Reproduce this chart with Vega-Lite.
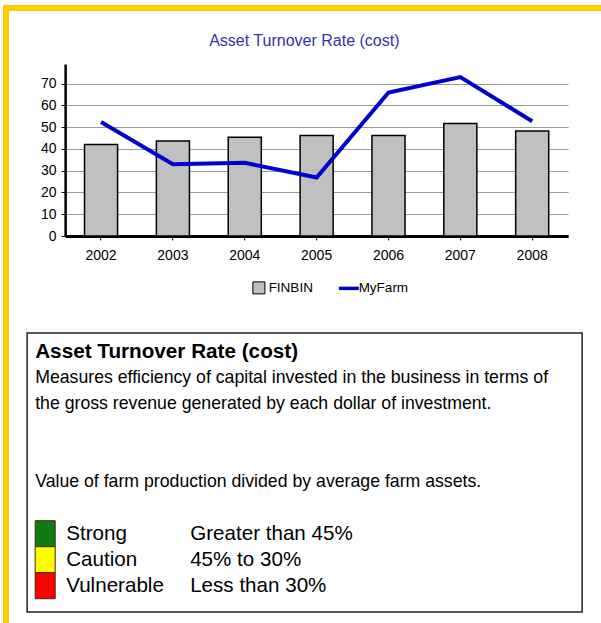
{
  "$schema": "https://vega.github.io/schema/vega-lite/v6.json",
  "padding": {"left": 3, "top": 5, "right": 0, "bottom": 0},
  "background": "white",
  "config": {"view": {"stroke": null}, "font": "Liberation Sans"},
  "datasets": {
    "chart": [
      {"year": "2002", "series": "FINBIN", "value": 42.0},
      {"year": "2003", "series": "FINBIN", "value": 43.6},
      {"year": "2004", "series": "FINBIN", "value": 45.4},
      {"year": "2005", "series": "FINBIN", "value": 46.2},
      {"year": "2006", "series": "FINBIN", "value": 46.2},
      {"year": "2007", "series": "FINBIN", "value": 51.7},
      {"year": "2008", "series": "FINBIN", "value": 48.2},
      {"year": "2002", "series": "MyFarm", "value": 52.4},
      {"year": "2003", "series": "MyFarm", "value": 33.0},
      {"year": "2004", "series": "MyFarm", "value": 33.6},
      {"year": "2005", "series": "MyFarm", "value": 26.9},
      {"year": "2006", "series": "MyFarm", "value": 65.9},
      {"year": "2007", "series": "MyFarm", "value": 73.0},
      {"year": "2008", "series": "MyFarm", "value": 52.7}
    ],
    "boxText": [
      {"key": "heading", "kind": "heading", "text": "Asset Turnover Rate (cost)"},
      {"key": "desc1", "kind": "body", "text": "Measures efficiency of capital invested in the business in terms of"},
      {"key": "desc2", "kind": "body", "text": "the gross revenue generated by each dollar of investment."},
      {"key": "definition", "kind": "body", "text": "Value of farm production divided by average farm assets."}
    ],
    "ratings": [
      {"status": "Strong", "range": "Greater than 45%"},
      {"status": "Caution", "range": "45% to 30%"},
      {"status": "Vulnerable", "range": "Less than 30%"}
    ],
    "blank": [{}]
  },
  "spacing": 0,
  "resolve": {"scale": {"color": "independent", "fill": "independent"}, "legend": {"color": "independent", "fill": "independent"}},
  "hconcat": [
    {
      "width": 6, "height": 618,
      "view": {"fill": "#FFCC00", "stroke": null},
      "data": {"name": "blank"},
      "mark": {"type": "point", "opacity": 0},
      "encoding": {}
    },
    {
      "spacing": 22,
      "center": true,
      "resolve": {"scale": {"color": "independent", "fill": "independent"}, "legend": {"color": "independent", "fill": "independent"}},
      "vconcat": [
        {
          "width": 592, "height": 6,
          "view": {"fill": "#FFCC00", "stroke": null},
          "data": {"name": "blank"},
          "mark": {"type": "point", "opacity": 0},
          "encoding": {}
        },
        {
          "spacing": 36,
          "resolve": {"scale": {"color": "independent", "fill": "independent"}, "legend": {"color": "independent", "fill": "independent"}},
          "vconcat": [
            {
              "spacing": 9,
              "resolve": {"scale": {"color": "independent"}, "legend": {"color": "independent"}},
              "hconcat": [
                {
                  "width": 1, "height": 1,
                  "data": {"name": "blank"},
                  "mark": {"type": "point", "opacity": 0},
                  "encoding": {}
                },
                {
                  "width": 503, "height": 172,
                  "title": {"text": "Asset Turnover Rate (cost)", "color": "#3333aa", "fontSize": 16, "fontWeight": "normal", "font": "Liberation Sans", "anchor": "middle", "frame": "bounds", "offset": 15},
                  "data": {"name": "chart"},
                  "encoding": {
                    "x": {"field": "year", "type": "nominal", "scale": {"paddingInner": 0.54, "paddingOuter": 0.27},
                      "axis": {"title": null, "labelAngle": 0, "domainColor": "#000", "domainWidth": 3, "tickColor": "#000", "tickSize": 4, "labelFontSize": 14, "labelColor": "#000", "labelPadding": 8, "grid": false}},
                    "y": {"field": "value", "type": "quantitative", "scale": {"domain": [0, 79], "nice": false},
                      "axis": {"values": [0, 10, 20, 30, 40, 50, 60, 70], "title": null, "grid": true, "gridColor": "#999", "gridWidth": 1, "domainColor": "#000", "domainWidth": 2.5, "tickColor": "#000", "tickSize": 4, "labelFontSize": 14, "labelColor": "#000", "labelPadding": 5}}
                  },
                  "layer": [
                    {"transform": [{"filter": "datum.series === 'FINBIN'"}], "mark": {"type": "bar", "fill": "#c0c0c0", "stroke": "#000", "strokeWidth": 1.5}},
                    {
                      "transform": [{"filter": "datum.series === 'MyFarm'"}],
                      "mark": {"type": "line", "strokeWidth": 4},
                      "encoding": {
                        "color": {"field": "series", "type": "nominal", "scale": {"domain": ["FINBIN", "MyFarm"], "range": ["#000000", "#0000cc"]},
                          "legend": {"title": null, "orient": "none", "legendX": 187, "legendY": 217, "padding": 0, "direction": "horizontal", "labelFontSize": 13.5, "labelFont": "Liberation Sans", "labelColor": "#000", "symbolSize": 144, "columnPadding": 18, "labelOffset": 3,
                            "encode": {"symbols": {"update": {
                              "shape": {"signal": "datum.value === 'MyFarm' ? 'stroke' : 'square'"},
                              "size": {"signal": "datum.value === 'MyFarm' ? 400 : 144"},
                              "fill": {"signal": "datum.value === 'MyFarm' ? 'transparent' : '#c0c0c0'"},
                              "strokeWidth": {"signal": "datum.value === 'MyFarm' ? 3.5 : 1"}}}}}}
                      }
                    }
                  ]
                }
              ]
            },
            {
              "width": 555, "height": 279,
              "view": {"stroke": "#222", "strokeWidth": 1.5, "fill": "white"},
              "layer": [
                {
                  "data": {"name": "boxText"},
                  "transform": [{"filter": "datum.kind === 'heading'"}],
                  "mark": {"type": "text", "align": "left", "baseline": "middle", "fontSize": 20.7, "fontWeight": "bold", "font": "Liberation Sans", "color": "#000"},
                  "encoding": {
                    "x": {"datum": "c0", "type": "nominal", "bandPosition": 0, "axis": null,
                      "scale": {"type": "band", "domain": ["c0","c1","c2","c3","c4","c5","c6","c7","c8","c9","c10","c11","c12","c13","c14","c15","c16","c17"], "paddingInner": 0.355, "paddingOuter": 0.13, "align": 1}},
                    "y": {"field": "key", "type": "nominal", "axis": null,
                      "scale": {"type": "band", "domain": ["heading","desc1","desc2","gap1","gap2","definition","gap3","Strong","Caution","Vulnerable"], "paddingInner": 0, "paddingOuter": 0.365, "align": 0.3}},
                    "text": {"field": "text"}
                  }
                },
                {
                  "data": {"name": "boxText"},
                  "transform": [{"filter": "datum.kind === 'body'"}],
                  "mark": {"type": "text", "align": "left", "baseline": "middle", "fontSize": 17.7, "font": "Liberation Sans", "color": "#000"},
                  "encoding": {
                    "x": {"datum": "c0", "type": "nominal", "bandPosition": 0, "axis": null},
                    "y": {"field": "key", "type": "nominal", "axis": null},
                    "text": {"field": "text"}
                  }
                },
                {
                  "data": {"name": "ratings"},
                  "mark": {"type": "bar", "stroke": "#3a2a10", "strokeWidth": 1},
                  "encoding": {
                    "x": {"datum": "c0", "type": "nominal", "axis": null},
                    "y": {"field": "status", "type": "nominal", "axis": null},
                    "fill": {"field": "status", "type": "nominal", "legend": null,
                      "scale": {"domain": ["Strong", "Caution", "Vulnerable"], "range": ["#127a12", "#ffff00", "#ff0000"]}}
                  }
                },
                {
                  "data": {"name": "ratings"},
                  "mark": {"type": "text", "align": "left", "baseline": "middle", "fontSize": 20.6, "font": "Liberation Sans", "color": "#000"},
                  "encoding": {
                    "x": {"datum": "c1", "type": "nominal", "bandPosition": 0, "axis": null},
                    "y": {"field": "status", "type": "nominal", "axis": null},
                    "text": {"field": "status"}
                  }
                },
                {
                  "data": {"name": "ratings"},
                  "mark": {"type": "text", "align": "left", "baseline": "middle", "fontSize": 20.6, "font": "Liberation Sans", "color": "#000"},
                  "encoding": {
                    "x": {"datum": "c5", "type": "nominal", "bandPosition": 0, "axis": null},
                    "y": {"field": "status", "type": "nominal", "axis": null},
                    "text": {"field": "range"}
                  }
                }
              ]
            }
          ]
        }
      ]
    }
  ]
}
